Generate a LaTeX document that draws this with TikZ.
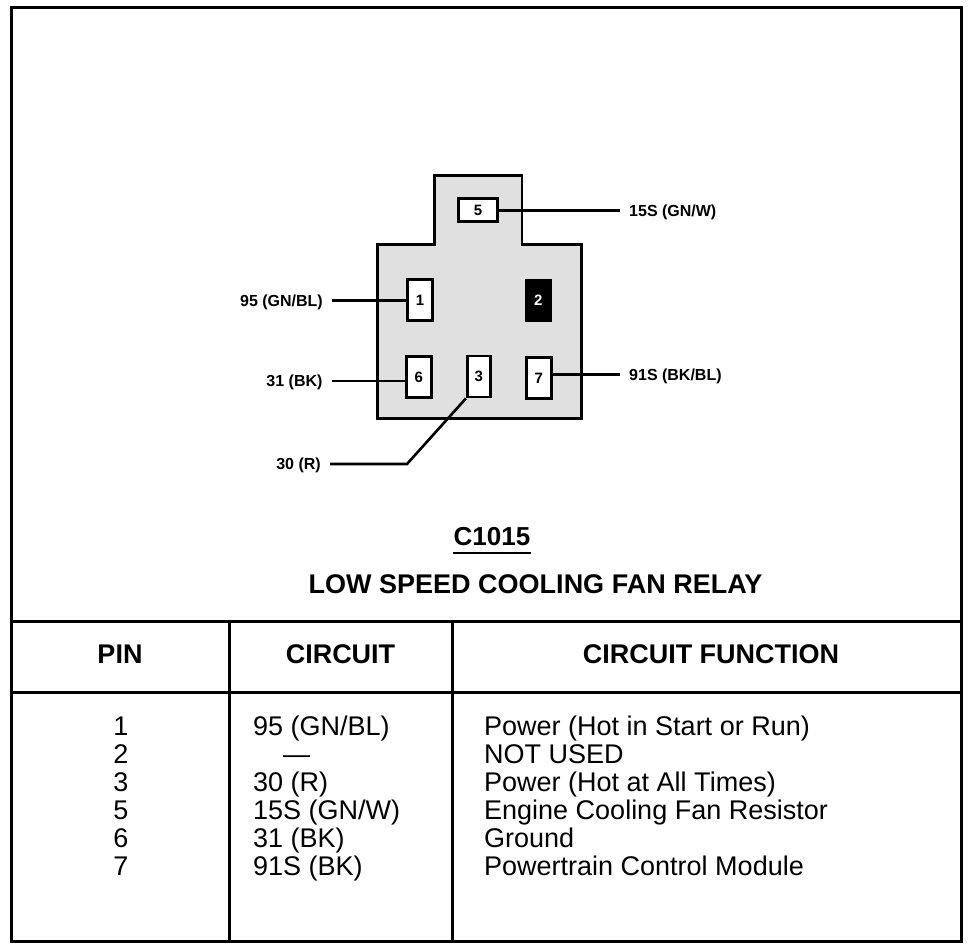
\documentclass[tikz,border=0pt]{standalone}
\usepackage{fontspec}
\setmainfont{Liberation Sans}
\tikzset{
  pinbox/.style={draw=black, line width=2.6pt, fill=white, inner sep=0pt, minimum width=25pt, minimum height=41pt, font=\bfseries\fontsize{15}{15}\selectfont},
  deadpin/.style={pinbox, fill=black, text=white},
  wirelbl/.style={inner xsep=9pt, inner ysep=0pt, text height=11.5pt, text depth=0pt, font=\bfseries\fontsize{16}{16}\selectfont},
  wire/.style={line width=2.6pt},
  rule/.style={line width=3pt},
  rowtext/.style={inner sep=0pt, font=\fontsize{27}{28}\selectfont},
  headtext/.style={inner sep=0pt, font=\bfseries\fontsize{27}{28}\selectfont},
}
\begin{document}
\begin{tikzpicture}[x=1pt,y=-1pt]
\useasboundingbox (0,0) rectangle (976,950);
% frame and table rules
\draw[rule] (11.5,8) rectangle (961.5,941.5);
\draw[rule] (11.5,621.5) -- (961.5,621.5);
\draw[rule] (11.5,692.5) -- (961.5,692.5);
\draw[rule] (229.5,621.5) -- (229.5,941.5);
\draw[rule] (452.5,621.5) -- (452.5,941.5);
% connector housing
\draw[line width=2.6pt, fill=black!12] (377.3,244.6) -- (434.6,244.6) -- (434.6,175.3) -- (522,175.3) -- (522,244.6) -- (581.4,244.6) -- (581.4,418.7) -- (377.3,418.7) -- cycle;
% pins
\node[pinbox, minimum width=39.5pt, minimum height=23pt] (p5) at (478,210) {5};
\node[pinbox] (p1) at (420,300) {1};
\node[deadpin] (p2) at (538.3,300.3) {2};
\node[pinbox] (p6) at (418.8,377) {6};
\node[pinbox, minimum width=23pt] (p3) at (478.8,376.5) {3};
\node[pinbox] (p7) at (538.8,378) {7};
% wire labels
\node[wirelbl, anchor=west] (l5) at (620,210.7) {15S (GN/W)};
\node[wirelbl, anchor=east] (l1) at (332,300.7) {95 (GN/BL)};
\node[wirelbl, anchor=east] (l6) at (331.7,381) {31 (BK)};
\node[wirelbl, anchor=west] (l7) at (620,374.5) {91S (BK/BL)};
\node[wirelbl, anchor=east] (l3) at (330,464) {30 (R)};
\coordinate (k3) at (407,464);
% wires
\draw[wire] (p5.east |- l5.west) -- (l5.west);
\draw[wire] (l1.east) -- (l1.east -| p1.west);
\draw[wire] (l6.east) -- (l6.east -| p6.west);
\draw[wire] (p7.east |- l7.west) -- (l7.west);
\draw[wire] (p3.south west) -- (k3) -- (l3.east);
% titles
\node[headtext, font=\bfseries\fontsize{26}{28}\selectfont, anchor=base] (code) at (492,545) {C1015};
\draw[line width=2pt] ([yshift=-7.7pt]code.base west) -- ([yshift=-7.7pt]code.base east);
\node[headtext, anchor=base] (title) at (535.5,593) {LOW SPEED COOLING FAN RELAY};
% table header
\node[headtext, anchor=base] (hpin) at (120,663) {PIN};
\node[headtext, anchor=base] (hcirc) at (340.5,663) {CIRCUIT};
\node[headtext, anchor=base] (hfunc) at (711,663) {CIRCUIT FUNCTION};
% table rows
\node[rowtext, anchor=base] (n1) at (121,735) {1};
\node[rowtext, anchor=base west] (c1) at (253,735) {95 (GN/BL)};
\node[rowtext, anchor=base west] (f1) at (484,735) {Power (Hot in Start or Run)};
\node[rowtext, anchor=base] (n2) at (121,763) {2};
\node[rowtext, anchor=base west] (c2) at (283,763) {\textemdash};
\node[rowtext, anchor=base west] (f2) at (484,763) {NOT USED};
\node[rowtext, anchor=base] (n3) at (121,791) {3};
\node[rowtext, anchor=base west] (c3) at (253,791) {30 (R)};
\node[rowtext, anchor=base west] (f3) at (484,791) {Power (Hot at All Times)};
\node[rowtext, anchor=base] (n5) at (121,819) {5};
\node[rowtext, anchor=base west] (c5) at (253,819) {15S (GN/W)};
\node[rowtext, anchor=base west] (f5) at (484,819) {Engine Cooling Fan Resistor};
\node[rowtext, anchor=base] (n6) at (121,847) {6};
\node[rowtext, anchor=base west] (c6) at (253,847) {31 (BK)};
\node[rowtext, anchor=base west] (f6) at (484,847) {Ground};
\node[rowtext, anchor=base] (n7) at (121,875) {7};
\node[rowtext, anchor=base west] (c7) at (253,875) {91S (BK)};
\node[rowtext, anchor=base west] (f7) at (484,875) {Powertrain Control Module};
\end{tikzpicture}
\end{document}
